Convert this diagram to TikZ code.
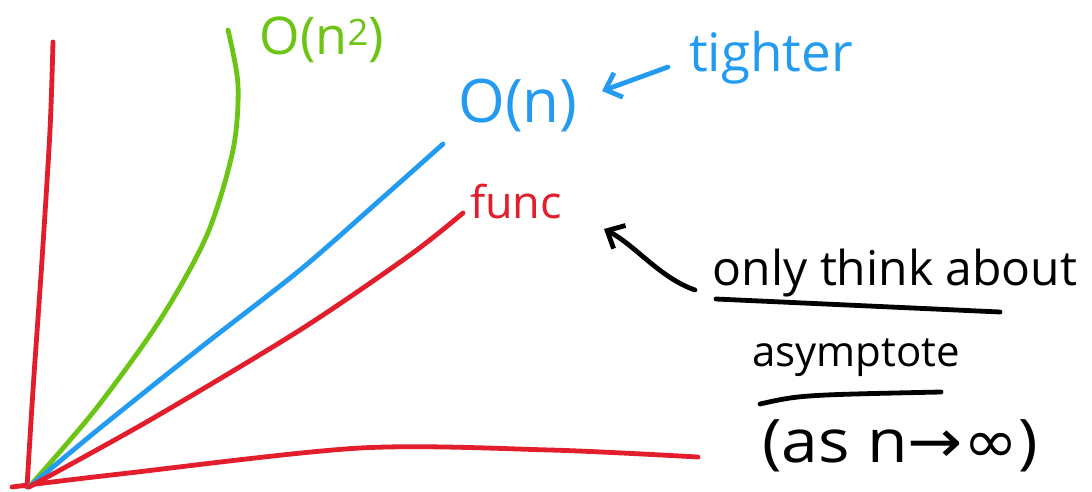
\documentclass[tikz,border=0pt]{standalone}
\usepackage{fontspec}
\setmainfont{Open Sans}
\newfontfamily\symf{DejaVu Sans}
\usetikzlibrary{arrows.meta}
\definecolor{cred}{RGB}{226,30,45}
\definecolor{cgreen}{RGB}{108,196,20}
\definecolor{cblue}{RGB}{35,155,240}
\tikzset{
  pen/.style={line width=4.8pt, line cap=round, line join=round},
  hand/.style={inner sep=0pt, anchor=center},
  tip/.style={-{Straight Barb[length=14pt,width=26pt,line width=4.8pt]}},
}
\begin{document}
\begin{tikzpicture}[x=1pt,y=-1pt]
\useasboundingbox (0,0) rectangle (1092,491);
\fill[white] (0,0) rectangle (1092,491);
% axes
\coordinate (o) at (29,487);
\coordinate (ytop) at (53,42);
\coordinate (xl) at (12,487);
\coordinate (xr) at (698,457);
\draw[pen,cred] plot[smooth] coordinates {(ytop) (50,130) (42,260) (33,390) (27,487)};
\draw[pen,cred] plot[smooth] coordinates {(xl) (120,474) (360,448) (550,450) (xr)};
% curves
\draw[pen,cgreen] plot[smooth] coordinates {(o) (95,410) (160,320) (207,235) (233,150) (238,85) (228,30)};
\draw[pen,cblue] plot[smooth] coordinates {(o) (100,428) (200,348) (300,270) (380,200) (443,144)};
\draw[pen,cred] plot[smooth] coordinates {(o) (150,420) (300,330) (410,255) (463,213)};
% labels
\node[hand,cgreen,font=\fontsize{52}{52}\selectfont] (on2) at (322,40) {O(n\textsuperscript{2})};
\node[hand,cblue,font=\fontsize{60}{60}\selectfont] (on) at (518,105) {O(n)};
\node[hand,cblue,font=\fontsize{53}{53}\selectfont] (tight) at (771,58) {tighter};
\node[hand,cred,font=\fontsize{45}{45}\selectfont] (func) at (516,201) {func};
\node[hand,font=\fontsize{48}{48}\selectfont] (only) at (895,273) {only think about};
\node[hand,font=\fontsize{42}{42}\selectfont] (asy) at (856,358) {asymptote};
\node[hand,font=\fontsize{60}{60}\selectfont,xscale=1.1] (asn) at (900,446) {(as n{\symf →}{\symf ∞})};
% arrows
\coordinate (bt) at (668,67);
\coordinate (bh) at (602,91);
\draw[pen,cblue,tip] (bt) -- (bh);
\coordinate (kt) at (695,290);
\coordinate (kh) at (604,229);
\draw[pen,black,tip] (kt) .. controls (660,278) and (635,245) .. (kh);
% underlines
\coordinate (u1a) at (716,299);
\coordinate (u1b) at (1000,312);
\draw[pen] (u1a) -- (u1b);
\coordinate (u2a) at (760,404);
\coordinate (u2b) at (941,392);
\draw[pen] (u2a) .. controls (800,395) .. (u2b);
\end{tikzpicture}
\end{document}
